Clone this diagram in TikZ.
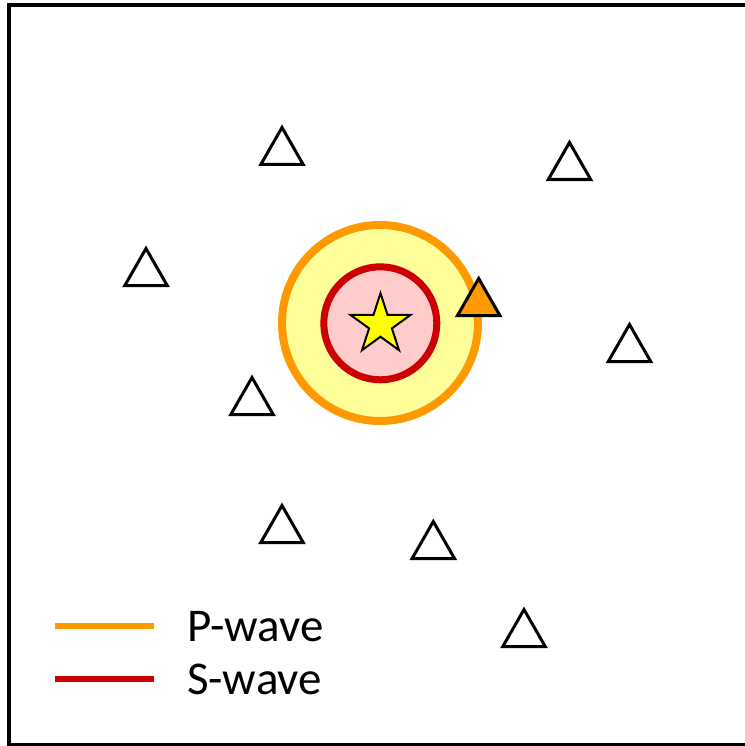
\documentclass[tikz,border=0pt]{standalone}
\usepackage{fontspec}
\setmainfont{Carlito}
\definecolor{pwave}{HTML}{FF9900}
\definecolor{swave}{HTML}{CC0000}
\definecolor{pfill}{HTML}{FFFF99}
\definecolor{sfill}{HTML}{FFCCCC}
\definecolor{starfill}{HTML}{FFFF00}
\tikzset{
  station/.pic={\draw[line width=3pt, miter limit=10, fill=white] (-21.2,-1.5) -- (21.2,-1.5) -- (0,-38.5) -- cycle;},
  hitstation/.pic={\draw[line width=3pt, miter limit=10, fill=pwave] (-21.2,-1.5) -- (21.2,-1.5) -- (0,-38.5) -- cycle;},
  legendline/.style={line width=6pt},
  legendtext/.style={anchor=base west, inner sep=0pt, font=\fontsize{47}{56}\selectfont},
}
\begin{document}
\begin{tikzpicture}[x=1pt, y=-1pt]
\useasboundingbox (0,0) rectangle (744,746);
\fill[white] (0,0) rectangle (744,746);
% frame
\draw[line width=4pt] (9,5) rectangle (760,745);
% wave fronts
\draw[pwave, line width=8pt, fill=pfill] (380,323) circle[radius=98];
\draw[swave, line width=7pt, fill=sfill] (380.3,323.3) circle[radius=56.5];
% epicenter star
\draw[line width=2pt, miter limit=10, fill=starfill, shift={(380.5,324.7)}]
  (-90:31.5) -- (-54:12) -- (-18:31.5) -- (18:12) -- (54:31.5) -- (90:12)
  -- (126:31.5) -- (162:12) -- (198:31.5) -- (234:12) -- cycle;
% stations
\pic at (282,166) {station};
\pic at (146,287) {station};
\pic at (569.5,181) {station};
\pic at (629.5,363) {station};
\pic at (252,416) {station};
\pic at (282,544) {station};
\pic at (433.3,560) {station};
\pic at (524,648) {station};
\pic at (478.7,317) {hitstation};
% legend
\coordinate (pl1) at (55,625.7);
\coordinate (pl2) at (154,625.7);
\coordinate (sl1) at (55,679);
\coordinate (sl2) at (154,679);
\draw[legendline, pwave] (pl1) -- (pl2);
\draw[legendline, swave] (sl1) -- (sl2);
\node[legendtext] (ptext) at (187,641.7) {P-wave};
\node[legendtext] (stext) at (187,694) {S-wave};
\end{tikzpicture}
\end{document}
